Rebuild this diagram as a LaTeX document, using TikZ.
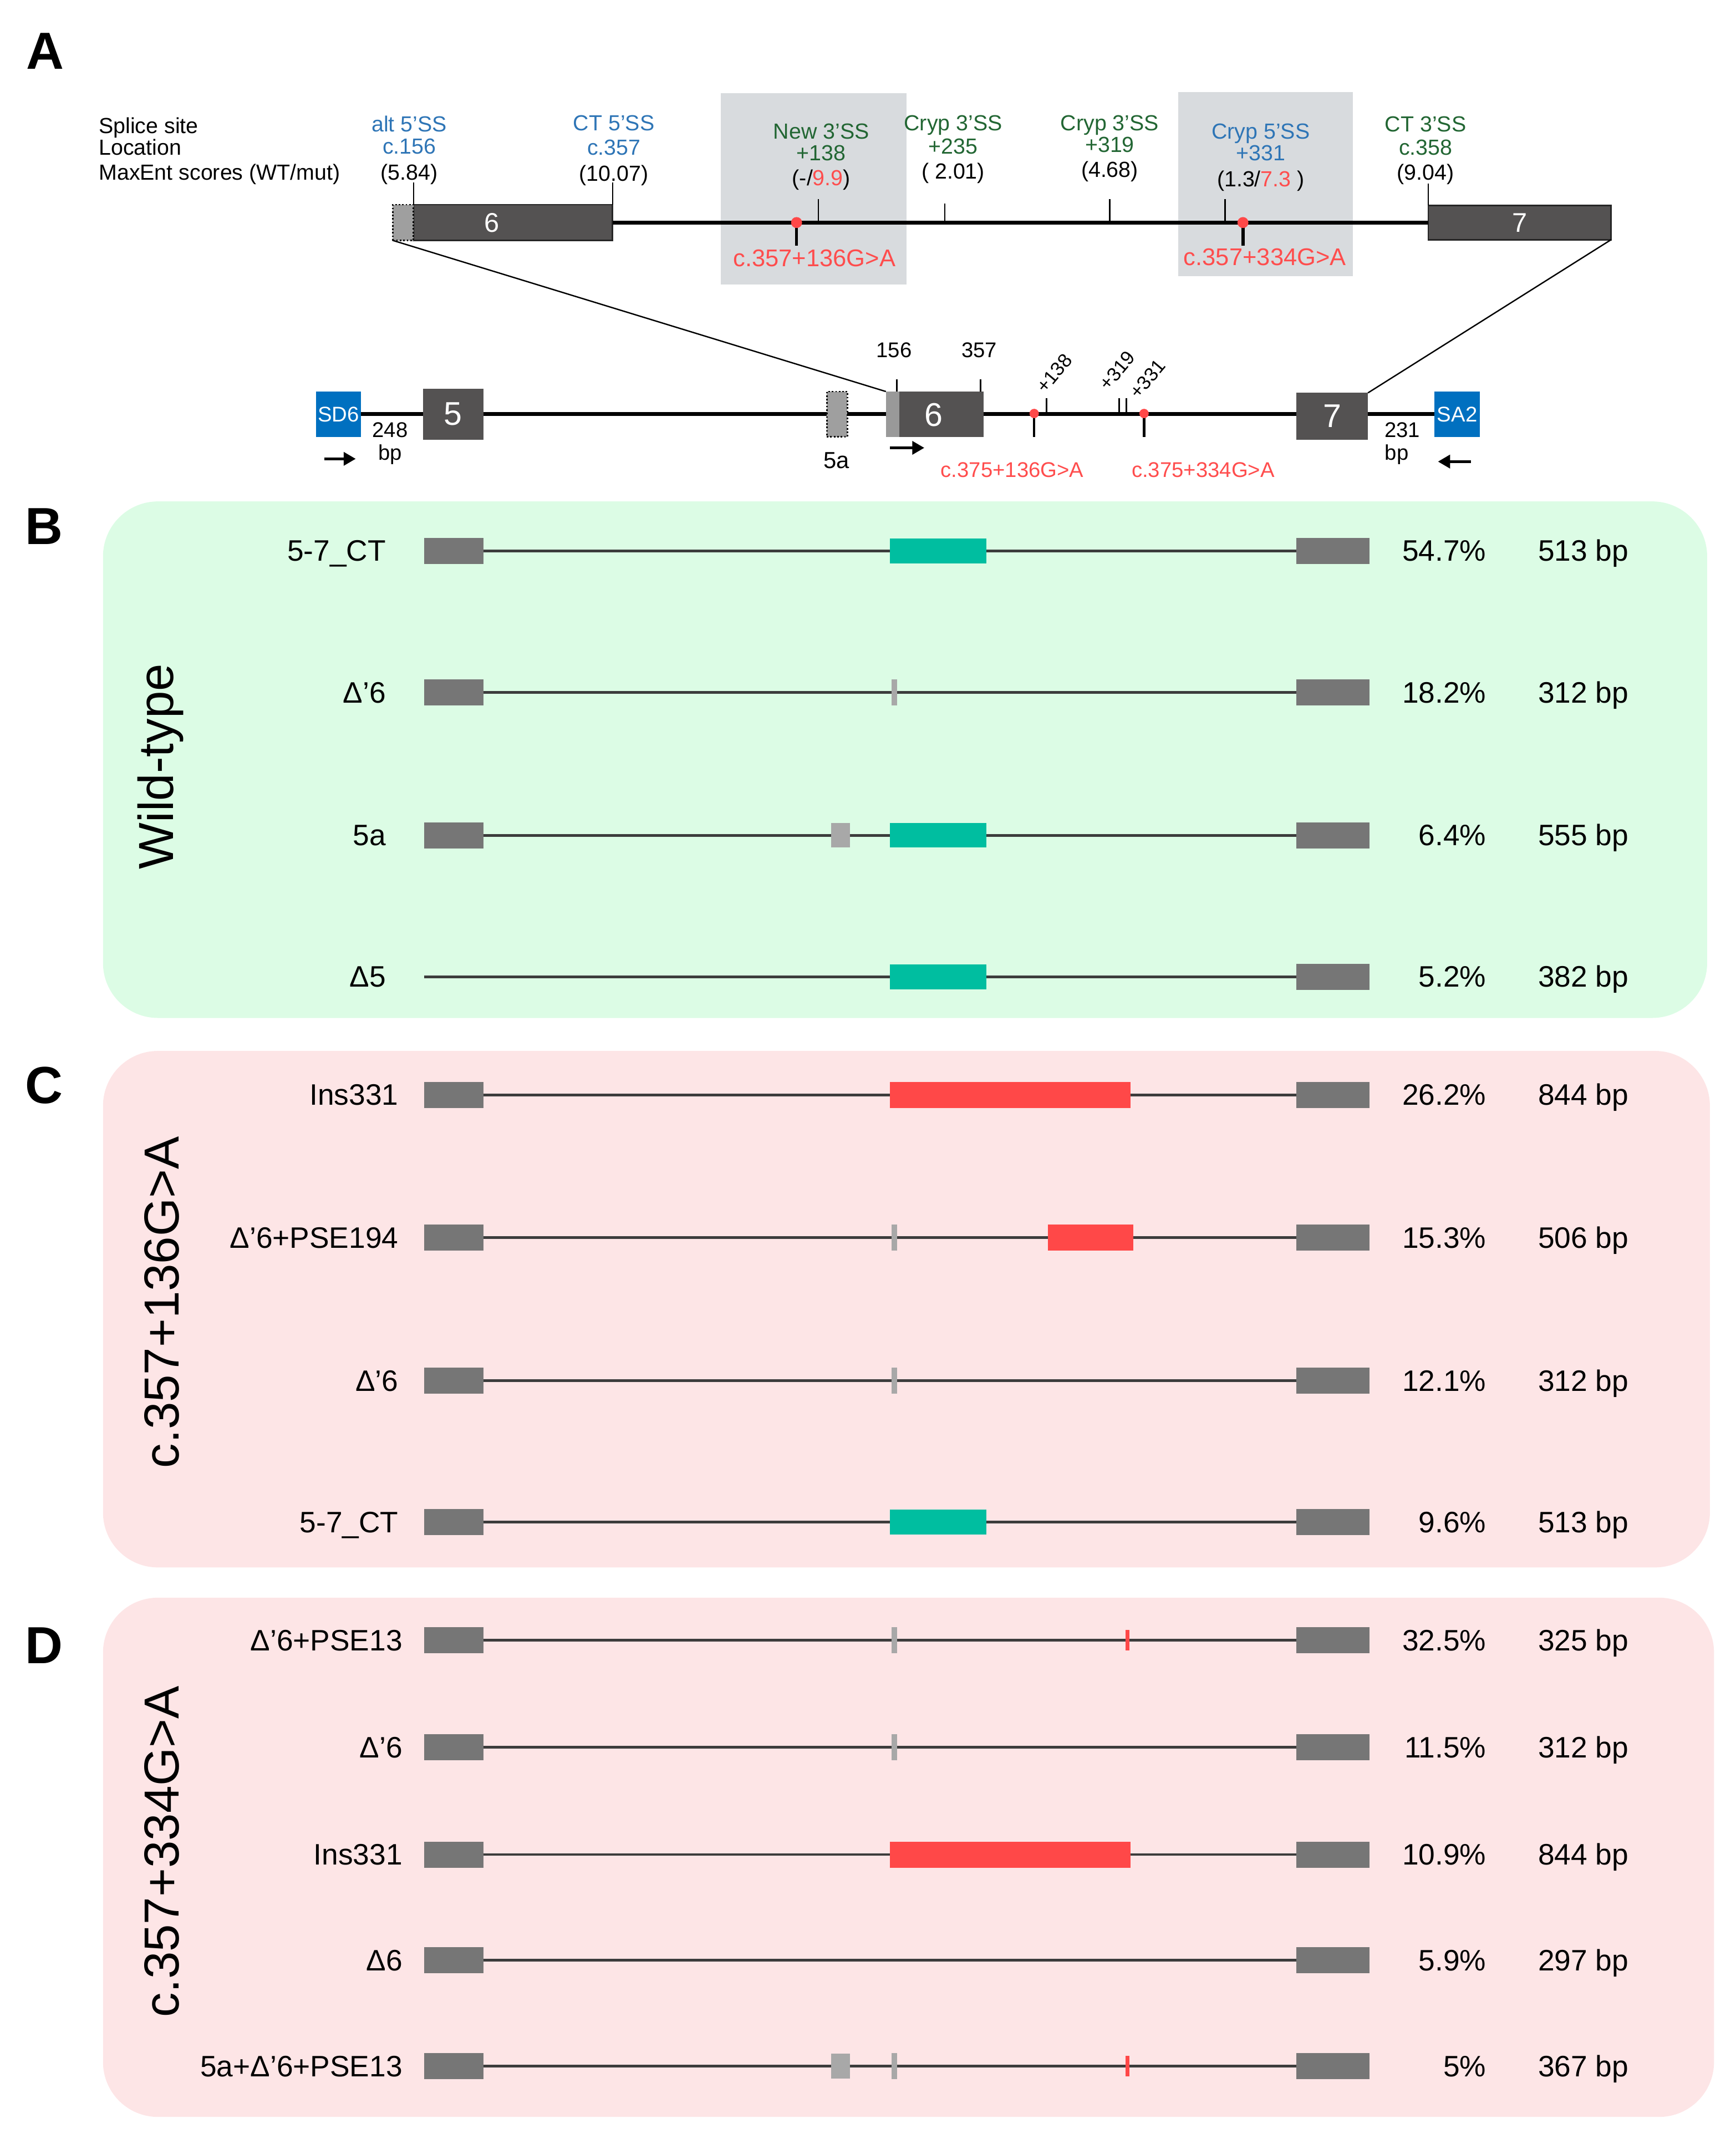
\documentclass[tikz,border=0pt]{standalone}
\usepackage{fontspec}
\setmainfont{Liberation Sans}
\usetikzlibrary{arrows.meta}
\definecolor{exg}{RGB}{118,118,118}
\definecolor{exd}{RGB}{84,82,82}
\definecolor{tealc}{RGB}{0,190,160}
\definecolor{redc}{RGB}{255,72,72}
\definecolor{ltg}{RGB}{168,168,168}
\definecolor{intr}{RGB}{60,60,60}
\definecolor{greenbg}{RGB}{220,252,229}
\definecolor{pinkbg}{RGB}{253,229,230}
\definecolor{boxg}{RGB}{216,219,222}
\definecolor{blueb}{RGB}{0,112,192}
\definecolor{bluet}{RGB}{46,117,182}
\definecolor{greent}{RGB}{34,102,51}
\definecolor{redt}{RGB}{255,77,77}
\newcommand\trow[6]{%
  \node[exonT, minimum width=1.075cm] (#1a) at (330.5,#2) {};
  \node[exonT, minimum width=1.325cm] (#1b) at (970.5,#2) {};
  \draw[intron] (#1a.east) -- (#1b.west);
  \node[rowlab] (#1l) at (#3,#2+7.5) {#4};
  \node[rowlab] (#1p) at (1082,#2+7.5) {#5};
  \node[bplab] (#1s) at (1120,#2+7.5) {#6};}
\begin{document}
\begin{tikzpicture}[x=0.025cm,y=-0.025cm,
  every node/.style={inner sep=0pt, outer sep=0pt},
  exonT/.style={rectangle, fill=exg, minimum height=0.475cm},
  tealx/.style={rectangle, fill=tealc, minimum width=1.75cm, minimum height=0.45cm},
  insx/.style={rectangle, fill=redc, minimum width=4.375cm, minimum height=0.475cm},
  psex/.style={rectangle, fill=redc, minimum width=1.55cm, minimum height=0.475cm},
  gtick/.style={rectangle, fill=ltg, minimum width=0.1cm, minimum height=0.475cm},
  fivea/.style={rectangle, fill=ltg, minimum width=0.35cm, minimum height=0.45cm},
  rtick/.style={rectangle, fill=redc, minimum width=0.075cm, minimum height=0.375cm},
  intron/.style={draw=intr, line width=1.4pt},
  rowlab/.style={font=\fontsize{15.3}{18}\selectfont, anchor=base east},
  bplab/.style={font=\fontsize{15.3}{18}\selectfont, anchor=base west},
  panel/.style={font=\bfseries\fontsize{27}{30}\selectfont},
  vlab/.style={font=\fontsize{25.5}{30}\selectfont, rotate=90},
  small/.style={font=\fontsize{11}{13}\selectfont},
  rot/.style={font=\fontsize{10}{12}\selectfont, rotate=50, anchor=base west},
  ssl/.style={font=\fontsize{11.3}{13}\selectfont, anchor=base},
  redlab/.style={font=\fontsize{12.5}{15}\selectfont, text=redt},
  gexon/.style={rectangle, fill=exd, text=white},
  tick/.style={draw=black, line width=0.6pt},
  mline/.style={draw=black, line width=2pt},
  pr/.style={-{Triangle[length=2.2mm,width=2.4mm]}, line width=1.4pt},
  dotbox/.style={rectangle, draw=black, densely dotted, line width=0.8pt, fill=gray!75},
  rdot/.style={circle, fill=redc, minimum size=0.2cm},
]
\useasboundingbox (0,0) rectangle (1264,1568);
% ---------------- Panel A -----------------
\node[panel] (A) at (33,37) {A};
\fill[boxg] (525,68) rectangle (660,207);
\fill[boxg] (858,67) rectangle (985,201);
\node[ssl, anchor=base west] (ss1) at (72,97) {Splice site};
\node[ssl, anchor=base west] (ss2) at (72,113) {Location};
\node[ssl, anchor=base west] (ss3) at (72,131) {MaxEnt scores (WT/mut)};
% column labels
\node[ssl, text=bluet] (c1a) at (298,96) {alt 5'SS};
\node[ssl, text=bluet] (c1b) at (298,112) {c.156};
\node[ssl] (c1c) at (298,131) {(5.84)};
\node[ssl, text=bluet] (c2a) at (447,95) {CT 5'SS};
\node[ssl, text=bluet] (c2b) at (447,113) {c.357};
\node[ssl] (c2c) at (447,132) {(10.07)};
\node[ssl, text=greent] (c3a) at (598,101) {New 3'SS};
\node[ssl, text=greent] (c3b) at (598,117) {+138};
\node[ssl] (c3c) at (598,135) {(-/\textcolor{redt}{9.9})};
\node[ssl, text=greent] (c4a) at (694,95) {Cryp 3'SS};
\node[ssl, text=greent] (c4b) at (694,112) {+235};
\node[ssl] (c4c) at (694,130) {( 2.01)};
\node[ssl, text=greent] (c5a) at (808,95) {Cryp 3'SS};
\node[ssl, text=greent] (c5b) at (808,111) {+319};
\node[ssl] (c5c) at (808,129) {(4.68)};
\node[ssl, text=bluet] (c6a) at (918,101) {Cryp 5'SS};
\node[ssl, text=bluet] (c6b) at (918,117) {+331};
\node[ssl] (c6c) at (918,136) {(1.3/\textcolor{redt}{7.3} )};
\node[ssl, text=greent] (c7a) at (1038,96) {CT 3'SS};
\node[ssl, text=greent] (c7b) at (1038,113) {c.358};
\node[ssl] (c7c) at (1038,131) {(9.04)};
% exons top
\node[gexon, draw=black!85, line width=0.8pt, minimum width=3.625cm, minimum height=0.65cm] (tx6) at (373.5,162) {};
\node[text=white, font=\fontsize{14}{16}\selectfont] (tx6l) at (358,162) {6};
\node[dotbox, minimum width=0.375cm, minimum height=0.65cm] (txa) at (293.5,162) {};
\node[gexon, draw=black!85, line width=0.8pt, minimum width=3.325cm, minimum height=0.625cm, font=\fontsize{14}{16}\selectfont] (tx7) at (1106.5,162) {7};
\draw[mline] (tx6.east) -- (tx7.west);
\draw[tick] (tx6.north west) -- ++(0,-16);
\draw[tick] (tx6.north east) -- ++(0,-16);
\draw[tick] (tx7.north west) -- ++(0,-16);
\coordinate (k1) at (596,162);
\coordinate (k2) at (688,162);
\coordinate (k3) at (808,162);
\coordinate (k4) at (892,162);
\draw[tick] (k1) -- ++(0,-17);
\draw[tick] (k2) -- ++(0,-14);
\draw[tick] (k3) -- ++(0,-17);
\draw[tick] (k4) -- ++(0,-17);
\coordinate (m1) at (580,162);
\coordinate (m2) at (905,162);
\draw[line width=1.6pt] (m1) -- ++(0,17);
\draw[line width=1.6pt] (m2) -- ++(0,17);
\node[rdot] (m1d) at (m1) {};
\node[rdot] (m2d) at (m2) {};
\node[redlab] (m1l) at (593,188) {c.357+136G>A};
\node[redlab] (m2l) at (921,187) {c.357+334G>A};
% ---------------- gene below -----------------
\node[rectangle, fill=blueb, text=white, minimum width=0.825cm, minimum height=0.825cm, font=\fontsize{11}{13}\selectfont] (sd6) at (246.5,301.5) {SD6};
\node[rectangle, fill=blueb, text=white, minimum width=0.825cm, minimum height=0.825cm, font=\fontsize{11}{13}\selectfont] (sa2) at (1061,301.5) {SA2};
\draw[mline] (sd6.east) -- (sa2.west);
\node[gexon, minimum width=1.1cm, minimum height=0.925cm, font=\fontsize{17}{20}\selectfont] (g5) at (330,301.5) {5};
\node[dotbox, minimum width=0.375cm, minimum height=0.825cm] (g5a) at (609.5,301.5) {};
\node[rectangle, fill=gray!80, minimum width=0.25cm, minimum height=0.825cm] (g6l) at (650,301.5) {};
\node[gexon, minimum width=1.525cm, minimum height=0.825cm] (g6) at (685.5,301.5) {};
\node[text=white, font=\fontsize{17}{20}\selectfont] (g6t) at (680,302) {6};
\node[gexon, minimum width=1.3cm, minimum height=0.85cm, font=\fontsize{17}{20}\selectfont] (g7) at (970,303) {7};
\coordinate (t156) at (653,285);
\coordinate (t357) at (714,285);
\draw[tick, line width=0.9pt] (t156) -- ++(0,-9);
\draw[tick, line width=0.9pt] (t357) -- ++(0,-9);
\node[small] (l156) at (651,255) {156};
\node[small] (l357) at (713,255) {357};
\node[small] (l248) at (284,313) {248};
\node[small] (lbp1) at (284,331) {bp};
\node[small] (l231) at (1021,313) {231};
\node[small] (lbp2) at (1017,331) {bp};
\node[font=\fontsize{12}{14}\selectfont] (l5a) at (609,335) {5a};
\coordinate (a1s) at (236,334); \coordinate (a1e) at (259,334);
\coordinate (a2s) at (648,326); \coordinate (a2e) at (673,326);
\coordinate (a3s) at (1071,336); \coordinate (a3e) at (1047,336);
\draw[pr] (a1s) -- (a1e);
\draw[pr] (a2s) -- (a2e);
\draw[pr] (a3s) -- (a3e);
\coordinate (u1) at (762,301);
\coordinate (u2) at (815,301);
\coordinate (u3) at (820,301);
\draw[tick, line width=0.9pt] (u1) -- ++(0,-11);
\draw[tick, line width=0.9pt] (u2) -- ++(0,-11);
\draw[tick, line width=0.9pt] (u3) -- ++(0,-11);
\node[rot] (r138) at (761,287) {+138};
\node[rot] (r319) at (807,285) {+319};
\node[rot] (r331) at (829,291) {+331};
\coordinate (b1m) at (753,301);
\coordinate (b2m) at (833,301);
\draw[line width=1.3pt] (b1m) -- ++(0,17);
\draw[line width=1.3pt] (b2m) -- ++(0,17);
\node[rdot, minimum size=0.17cm] (b1d) at (b1m) {};
\node[rdot, minimum size=0.17cm] (b2d) at (b2m) {};
\node[font=\fontsize{11}{13}\selectfont, text=redt] (b1l) at (737,342) {c.375+136G>A};
\node[font=\fontsize{11}{13}\selectfont, text=redt] (b2l) at (876,342) {c.375+334G>A};
\draw[line width=0.7pt] (txa.south west) -- (g6l.north west);
\draw[line width=0.7pt] (tx7.south east) -- (g7.north east);
% ---------------- Panel B -----------------
\fill[greenbg, rounded corners=1cm] (75,365) rectangle (1243,741);
\node[panel] (B) at (32,383) {B};
\node[vlab] (wt) at (117,558) {Wild-type};
\trow{b1}{401}{281}{5-7\_CT}{54.7\%}{513 bp}
\node[tealx] (b1t) at (683,401) {};
\trow{b2}{504}{281}{Δ'6}{18.2\%}{312 bp}
\node[gtick] (b2g) at (651,504) {};
\trow{b3}{608}{281}{5a}{6.4\%}{555 bp}
\node[fivea] (b3f) at (612,608) {};
\node[tealx] (b3t) at (683,608) {};
\coordinate (b4s) at (309,711);
\node[exonT, minimum width=1.325cm] (b4b) at (970.5,711) {};
\draw[intron] (b4s) -- (b4b.west);
\node[tealx] (b4t) at (683,711) {};
\node[rowlab] (b4l) at (281,718.5) {Δ5};
\node[rowlab] (b4p) at (1082,718.5) {5.2\%};
\node[bplab] (b4q) at (1120,718.5) {382 bp};
% ---------------- Panel C -----------------
\fill[pinkbg, rounded corners=1cm] (75,765) rectangle (1245,1141);
\node[panel] (C) at (32,790) {C};
\node[vlab] (c136) at (118,948) {c.357+136G>A};
\trow{c1}{797}{290}{Ins331}{26.2\%}{844 bp}
\node[insx] (c1i) at (735.5,797) {};
\trow{c2}{901}{290}{Δ'6+PSE194}{15.3\%}{506 bp}
\node[gtick] (c2g) at (651,901) {};
\node[psex] (c2p) at (794,901) {};
\trow{c3}{1005}{290}{Δ'6}{12.1\%}{312 bp}
\node[gtick] (c3g) at (651,1005) {};
\trow{c4}{1108}{290}{5-7\_CT}{9.6\%}{513 bp}
\node[tealx] (c4t) at (683,1108) {};
% ---------------- Panel D -----------------
\fill[pinkbg, rounded corners=1cm] (75,1163) rectangle (1248,1541);
\node[panel] (D) at (32,1198) {D};
\node[vlab] (c334) at (118,1348) {c.357+334G>A};
\trow{d1}{1194}{293}{Δ'6+PSE13}{32.5\%}{325 bp}
\node[gtick] (d1g) at (651,1194) {};
\node[rtick] (d1r) at (821,1194) {};
\trow{d2}{1272}{293}{Δ'6}{11.5\%}{312 bp}
\node[gtick] (d2g) at (651,1272) {};
\trow{d3}{1350}{293}{Ins331}{10.9\%}{844 bp}
\node[insx] (d3i) at (735.5,1350) {};
\trow{d4}{1427}{293}{Δ6}{5.9\%}{297 bp}
\trow{d5}{1504}{293}{5a+Δ'6+PSE13}{5\%}{367 bp}
\node[fivea] (d5f) at (612,1504) {};
\node[gtick] (d5g) at (651,1504) {};
\node[rtick] (d5r) at (821,1504) {};
\end{tikzpicture}
\end{document}
